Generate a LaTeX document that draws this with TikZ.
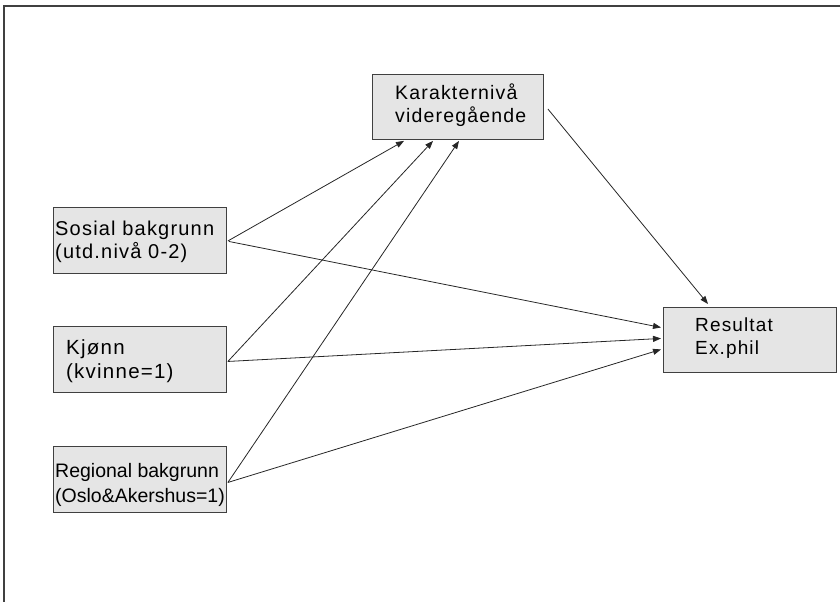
\documentclass[tikz,border=0pt]{standalone}
\usepackage{fontspec}
\setmainfont{Liberation Sans}[LetterSpace=6]
\usetikzlibrary{arrows.meta}
\begin{document}
\begin{tikzpicture}[x=1pt,y=-1pt,
  varbox/.style={draw=black!75, line width=0.9pt, fill=black!10,
    minimum width=173pt, minimum height=66pt, inner sep=0pt,
    anchor=north west},
  label/.style={anchor=north west, inner sep=0pt, align=left},
  path/.style={draw=black!85, line width=0.8pt,
    -{Triangle[length=8pt,width=6pt]}},
  frame/.style={draw=black!75, line width=2pt}]
\useasboundingbox (0,0) rectangle (840,602);
% outer frame (top and left edges)
\draw[frame] (840,6) -- (4,6) -- (4,602);

% variable boxes and their labels
\node[varbox, minimum width=171pt, minimum height=65pt] (kar) at (372,74) {};
\node[label, font=\fontsize{19.5}{23}\selectfont] (kartxt) at (395,84) {Karakternivå\\videregående};

\node[varbox] (sos) at (53,207) {};
\node[label, font=\fontsize{20}{23}\selectfont] (sostxt) at (55,221) {Sosial bakgrunn\\(utd.nivå 0-2)};

\node[varbox] (kjo) at (53,326) {};
\node[label, font=\fontsize{20.5}{24}\selectfont] (kjotxt) at (66,339) {Kjønn\\(kvinne=1)};

\node[varbox] (reg) at (53,446) {};
\node[label, font=\fontsize{19.5}{25}\selectfont\addfontfeatures{LetterSpace=0}] (regtxt) at (55,463) {Regional bakgrunn\\(Oslo\&Akershus=1)};

\node[varbox, minimum width=173pt, minimum height=65pt] (res) at (663,307) {};
\node[label, font=\fontsize{19}{23}\selectfont] (restxt) at (695,318) {Resultat\\Ex.phil};

% paths into the grade level
\draw[path] ([xshift=1pt,yshift=-0.5pt]sos.east) -- ([xshift=32pt,yshift=-1pt]kar.south west);
\draw[path] ([xshift=1pt,yshift=-2pt]kjo.east) -- ([xshift=61pt,yshift=-1pt]kar.south west);
\draw[path] ([xshift=1pt,yshift=-3pt]reg.east) -- ([xshift=87pt,yshift=-1pt]kar.south west);

% paths into the exam result
\draw[path] ([xshift=2pt,yshift=-1pt]sos.east) -- ([xshift=-2pt,yshift=12.5pt]res.west);
\draw[path] ([xshift=1pt,yshift=-2pt]kjo.east) -- ([xshift=-2pt,yshift=1.5pt]res.west);
\draw[path] ([xshift=1pt,yshift=-3pt]reg.east) -- ([xshift=-2pt,yshift=-9.5pt]res.west);
\draw[path] ([xshift=4pt,yshift=-35pt]kar.north east) -- ([xshift=45pt,yshift=3pt]res.north west);
\end{tikzpicture}
\end{document}
